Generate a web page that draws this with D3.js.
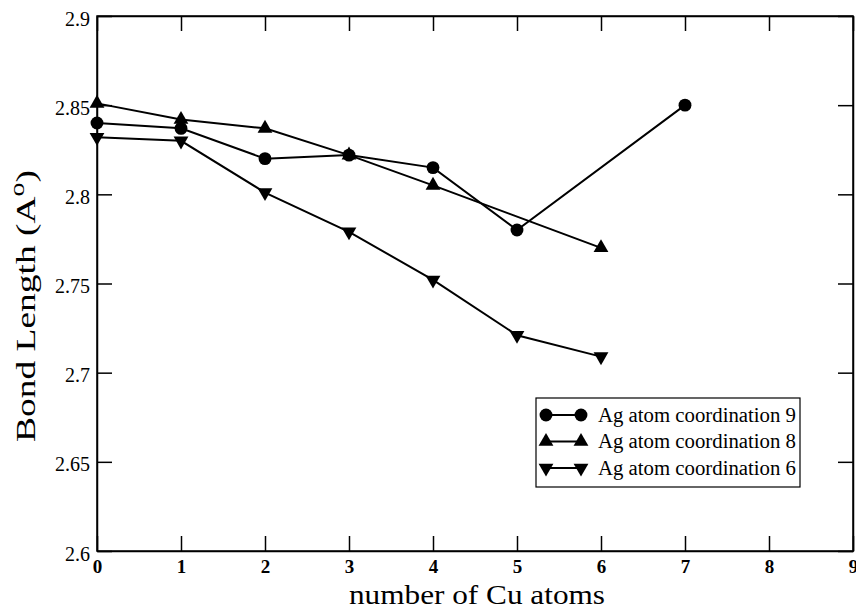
<!DOCTYPE html>
<html>
<head>
<meta charset="utf-8">
<script src="https://cdn.jsdelivr.net/npm/d3@7"></script>
<style>
  body { margin: 0; background: #fff; }
  svg text { font-family: 'Liberation Serif', 'Times New Roman', Times, serif !important; fill: #000; }
</style>
</head>
<body>
<div id="chart"></div>
<script>
const w = 856;
const h = 609;
const margin = {left: 97, right: 3, top: 16, bottom: 58};

// data
const xCoord9 = [0, 1, 2, 3, 4, 5, 7];
const yCoord9 = [2.840, 2.837, 2.820, 2.822, 2.815, 2.780, 2.850];
const xCoord8 = [0, 1, 2, 3, 4, 6];
const yCoord8 = [2.851, 2.842, 2.837, 2.822, 2.805, 2.770];
const xCoord6 = [0, 1, 2, 3, 4, 5, 6];
const yCoord6 = [2.832, 2.830, 2.801, 2.779, 2.752, 2.721, 2.709];
const seriesNames = ['Ag atom coordination 9', 'Ag atom coordination 8', 'Ag atom coordination 6'];
const xTicks = [0, 1, 2, 3, 4, 5, 6, 7, 8, 9];
const yTicks = [2.6, 2.65, 2.7, 2.75, 2.8, 2.85, 2.9];

const series = [
  {name: seriesNames[0], sym: d3.symbolCircle, rot: 0, pts: xCoord9.map((x, i) => [x, yCoord9[i]])},
  {name: seriesNames[1], sym: d3.symbolTriangle, rot: 0, pts: xCoord8.map((x, i) => [x, yCoord8[i]])},
  {name: seriesNames[2], sym: d3.symbolTriangle, rot: 180, pts: xCoord6.map((x, i) => [x, yCoord6[i]])}
];

const xScale = d3.scaleLinear().domain([0, 9]).range([margin.left, w - margin.right]);
const yScale = d3.scaleLinear().domain([2.6, 2.9]).range([h - margin.bottom, margin.top]);

const svg = d3.select('#chart').append('svg')
  .attr('width', w)
  .attr('height', h);

const tickLen = 15;

//axes with inward ticks, mirrored on top and right
const xAxis = svg.append('g')
  .attr('transform', 'translate(0,' + yScale(2.6) + ')')
  .call(d3.axisBottom(xScale).tickValues(xTicks).tickSizeInner(-tickLen).tickSizeOuter(0).tickFormat(d3.format('d')));
xAxis.attr('font-family', null);
xAxis.selectAll('text')
  .attr('y', 22)
  .attr('dy', 0)
  .style('font-size', '19px')
  .style('font-weight', 'bold');

svg.append('g')
  .attr('transform', 'translate(0,' + yScale(2.9) + ')')
  .call(d3.axisTop(xScale).tickValues(xTicks).tickSizeInner(-tickLen).tickSizeOuter(0).tickFormat(''));

const yAxis = svg.append('g')
  .attr('transform', 'translate(' + xScale(0) + ',0)')
  .call(d3.axisLeft(yScale).tickValues(yTicks).tickSizeInner(-tickLen).tickSizeOuter(0).tickFormat(d => d3.format('')(+d.toFixed(2))));
yAxis.attr('font-family', null);
yAxis.selectAll('text')
  .attr('x', -7)
  .attr('dy', '0.45em')
  .style('font-size', '20px');

svg.append('g')
  .attr('transform', 'translate(' + xScale(9) + ',0)')
  .call(d3.axisRight(yScale).tickValues(yTicks).tickSizeInner(-tickLen).tickSizeOuter(0).tickFormat(''));

svg.selectAll('.domain').attr('stroke', '#000').attr('stroke-width', 1.5);
svg.selectAll('.tick line').attr('stroke', '#000').attr('stroke-width', 1.5);

// frame
svg.append('rect')
  .attr('x', xScale(0))
  .attr('y', yScale(2.9))
  .attr('width', xScale(9) - xScale(0))
  .attr('height', yScale(2.6) - yScale(2.9))
  .attr('fill', 'none')
  .attr('stroke', '#000')
  .attr('stroke-width', 1.5);

// lines and markers
const line = d3.line().x(d => xScale(d[0])).y(d => yScale(d[1]));
const markerSize = s => s === d3.symbolCircle ? 130 : 95;

series.forEach(s => {
  svg.append('path')
    .datum(s.pts)
    .attr('fill', 'none')
    .attr('stroke', '#000')
    .attr('stroke-width', 2)
    .attr('d', line);

  svg.selectAll(null)
    .data(s.pts)
    .enter()
    .append('path')
    .attr('d', d3.symbol().type(s.sym).size(markerSize(s.sym)))
    .attr('transform', d => 'translate(' + xScale(d[0]) + ',' + yScale(d[1]) + ') rotate(' + s.rot + ')')
    .attr('fill', '#000');
});

//legend
const lg = svg.append('g');
lg.append('rect')
  .attr('x', 536).attr('y', 398)
  .attr('width', 264).attr('height', 89)
  .attr('fill', '#fff')
  .attr('stroke', '#000')
  .attr('stroke-width', 1.2);

series.forEach((s, i) => {
  const yy = 415 + i * 26.5;
  lg.append('line')
    .attr('x1', 546).attr('x2', 581)
    .attr('y1', yy).attr('y2', yy)
    .attr('stroke', '#000').attr('stroke-width', 2);
  [546, 581].forEach(xx => {
    lg.append('path')
      .attr('d', d3.symbol().type(s.sym).size(markerSize(s.sym)))
      .attr('transform', 'translate(' + xx + ',' + yy + ') rotate(' + s.rot + ')')
      .attr('fill', '#000');
  });
  lg.append('text')
    .attr('x', 598)
    .attr('y', yy)
    .attr('dy', '0.33em')
    .attr('textLength', 198)
    .attr('lengthAdjust', 'spacingAndGlyphs')
    .style('font-size', '20px')
    .text(s.name);
});

//x-axis label
svg.append('text')
  .attr('x', 477)
  .attr('y', 604)
  .attr('text-anchor', 'middle')
  .attr('textLength', 256)
  .attr('lengthAdjust', 'spacingAndGlyphs')
  .style('font-size', '27px')
  .text('number of Cu atoms');

//y-axis label
const yl = svg.append('text')
  .attr('text-anchor', 'middle')
  .attr('transform', 'translate(35,' + 306 + ')rotate(-90)')
  .attr('textLength', 272)
  .attr('lengthAdjust', 'spacingAndGlyphs')
  .style('font-size', '27px');
yl.append('tspan').text('Bond Length (A');
yl.append('tspan').attr('baseline-shift', 'super').style('font-size', '20px').text('o');
yl.append('tspan').text(')');
</script>
</body>
</html>
